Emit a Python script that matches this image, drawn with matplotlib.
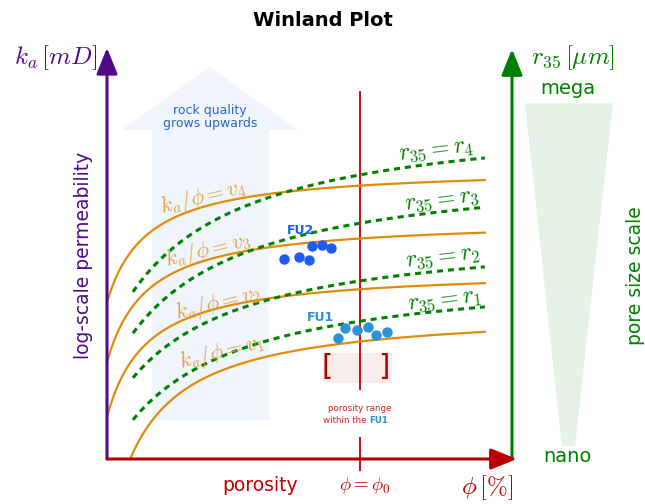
import numpy as np
import matplotlib
matplotlib.use('Agg')
import matplotlib.pyplot as plt
from matplotlib.patches import Polygon, Rectangle

plt.rcParams['mathtext.fontset'] = 'cm'

# schematic axes run from 0 to 1 in both directions (no real units shown)
# k/phi = v curves:  y = A - B / (x + C)
V_LABELS = [r'$k_a/\phi = v_1$', r'$k_a/\phi = v_2$', r'$k_a/\phi = v_3$', r'$k_a/\phi = v_4$']
V_A = [0.362, 0.459, 0.580, 0.705]
V_B = [0.0566, 0.0354, 0.0343, 0.0323]
V_C = 0.099
V_LABEL_POS = [(0.284, 0.258), (0.274, 0.377), (0.249, 0.505), (0.237, 0.632)]

# r35 = r curves
R_LABELS = [r'$r_{35} = r_1$', r'$r_{35} = r_2$', r'$r_{35} = r_3$', r'$r_{35} = r_4$']
R_A = [0.465, 0.560, 0.717, 0.843]
R_B = [0.1152, 0.1132, 0.1285, 0.1366]
R_C = 0.247
R_LABEL_POS = [(0.834, 0.386), (0.829, 0.488), (0.827, 0.628), (0.814, 0.748)]

# flow units
FU2_X = [0.437, 0.474, 0.499, 0.506, 0.531, 0.553]
FU2_Y = [0.483, 0.488, 0.481, 0.514, 0.517, 0.510]
FU1_X = [0.570, 0.588, 0.617, 0.644, 0.664, 0.691]
FU1_Y = [0.292, 0.316, 0.312, 0.319, 0.300, 0.307]

PHI0 = 0.625

ORANGE = '#df8b0b'
ORANGE_TXT = '#e3a040'
GREEN = '#008000'
PURPLE = '#500a88'
RED = '#b80000'
C_FU2 = '#1f5bf0'
C_FU1 = '#2b93d5'

fig = plt.figure(figsize=(6.45, 5.04), dpi=100)
ax = fig.add_axes([107/645, 45/504, 405/645, 414/504])
ax.set_xlim(0, 1)
ax.set_ylim(0, 1)
ax.axis('off')

fig.text(0.5, 1 - 20/504, 'Winland Plot', ha='center', va='center',
         fontsize=14, fontweight='bold')

# rock quality arrow
arrow = Polygon([(0.111, 0.094), (0.400, 0.094), (0.400, 0.795), (0.472, 0.795),
                 (0.254, 0.947), (0.037, 0.795), (0.111, 0.795)],
                closed=True, fc='#f0f5fc', ec='none', zorder=0, clip_on=False)
ax.add_patch(arrow)
ax.text(0.254, 0.826, 'rock quality\ngrows upwards', ha='center', va='center',
        fontsize=9, color='#2a66c2', linespacing=1.0)

# pore size wedge
ax.add_patch(Polygon([(1.032, 0.859), (1.249, 0.859), (1.156, 0.032), (1.123, 0.032)],
                     closed=True, fc='#e6f2e6', ec='none', zorder=0, clip_on=False))

# curves
x_or = np.linspace(0, 0.933, 300)
for A, B, lab, pos in zip(V_A, V_B, V_LABELS, V_LABEL_POS):
    ax.plot(x_or, A - B / (x_or + V_C), color=ORANGE, lw=1.6, zorder=2)
    ax.text(pos[0], pos[1], lab, color=ORANGE_TXT, fontsize=15.5, rotation=14,
            ha='center', va='center', zorder=3)

x_r = np.linspace(0.064, 0.933, 300)
for A, B, lab, pos in zip(R_A, R_B, R_LABELS, R_LABEL_POS):
    ax.plot(x_r, A - B / (x_r + R_C), color=GREEN, lw=2.2, ls=(0, (2, 1.6)), zorder=2)
    ax.text(pos[0], pos[1], lab, color=GREEN, fontsize=17, rotation=7,
            ha='center', va='center', zorder=3)

# phi0 line
ax.plot([PHI0, PHI0], [-0.027, 0.886], color=RED, lw=1.3, zorder=1, clip_on=False)

# flow units
ax.scatter(FU2_X, FU2_Y, s=42, color=C_FU2, zorder=4, clip_on=False)
ax.scatter(FU1_X, FU1_Y, s=42, color=C_FU1, zorder=4, clip_on=False)
ax.text(0.477, 0.553, 'FU2', color=C_FU2, fontsize=9, fontweight='bold',
        ha='center', va='center')
ax.text(0.528, 0.341, 'FU1', color=C_FU1, fontsize=9, fontweight='bold',
        ha='center', va='center')

# porosity range bracket
ax.add_patch(Rectangle((0.533, 0.184), 0.171, 0.072, fc='#f8eded', ec='none', zorder=0))
ax.text(0.543, 0.222, '[', color=RED, fontsize=21, ha='center', va='center')
ax.text(0.684, 0.222, ']', color=RED, fontsize=21, ha='center', va='center')
ax.add_patch(Rectangle((0.52, 0.053), 0.21, 0.114, fc='white', ec='none', zorder=2))
ax.text(PHI0, 0.123, 'porosity range', color='#d02020', fontsize=6.3,
        ha='center', va='center', zorder=3)
t = ax.text(0.534, 0.094, 'within the ', color='#d02020', fontsize=6.3,
            ha='left', va='center', zorder=3)
ax.annotate('FU1', xy=(1, 0), xycoords=t, va='bottom', ha='left',
            color=C_FU1, fontsize=6.3, fontweight='bold', zorder=3)

# axes arrows
head = dict(arrowstyle='-|>,head_length=0.42,head_width=0.17', mutation_scale=38,
            shrinkA=0, shrinkB=0, lw=2.2)
ax.annotate('', xy=(0, 0.993), xytext=(0, 0), annotation_clip=False,
            arrowprops=dict(color=PURPLE, **head))
ax.annotate('', xy=(1, 0.99), xytext=(1, 0), annotation_clip=False,
            arrowprops=dict(color=GREEN, **head))
ax.annotate('', xy=(1.012, 0), xytext=(0, 0), annotation_clip=False,
            arrowprops=dict(color=RED, **head))

# axis texts
ax.text(-0.128, 0.969, r'$k_a\,[mD]$', color=PURPLE, fontsize=18, ha='center', va='center')
ax.text(-0.059, 0.493, 'log-scale permeability', color=PURPLE, fontsize=13.5,
        rotation=90, ha='center', va='center')
ax.text(0.378, -0.065, 'porosity', color='#c00000', fontsize=13.5, ha='center', va='center')
ax.text(0.637, -0.065, r'$\phi = \phi_0$', color='#c00000', fontsize=13.5, ha='center', va='center')
ax.text(0.938, -0.068, r'$\phi\,[\%]$', color='#c00000', fontsize=18, ha='center', va='center')
ax.text(1.151, 0.969, r'$r_{35}\,[\mu m]$', color=GREEN, fontsize=18, ha='center', va='center')
ax.text(1.138, 0.896, 'mega', color=GREEN, fontsize=14, ha='center', va='center')
ax.text(1.138, 0.007, 'nano', color=GREEN, fontsize=14, ha='center', va='center')
ax.text(1.304, 0.444, 'pore size scale', color=GREEN, fontsize=13.5, rotation=90,
        ha='center', va='center')

fig.savefig('out.png', dpi=100)
